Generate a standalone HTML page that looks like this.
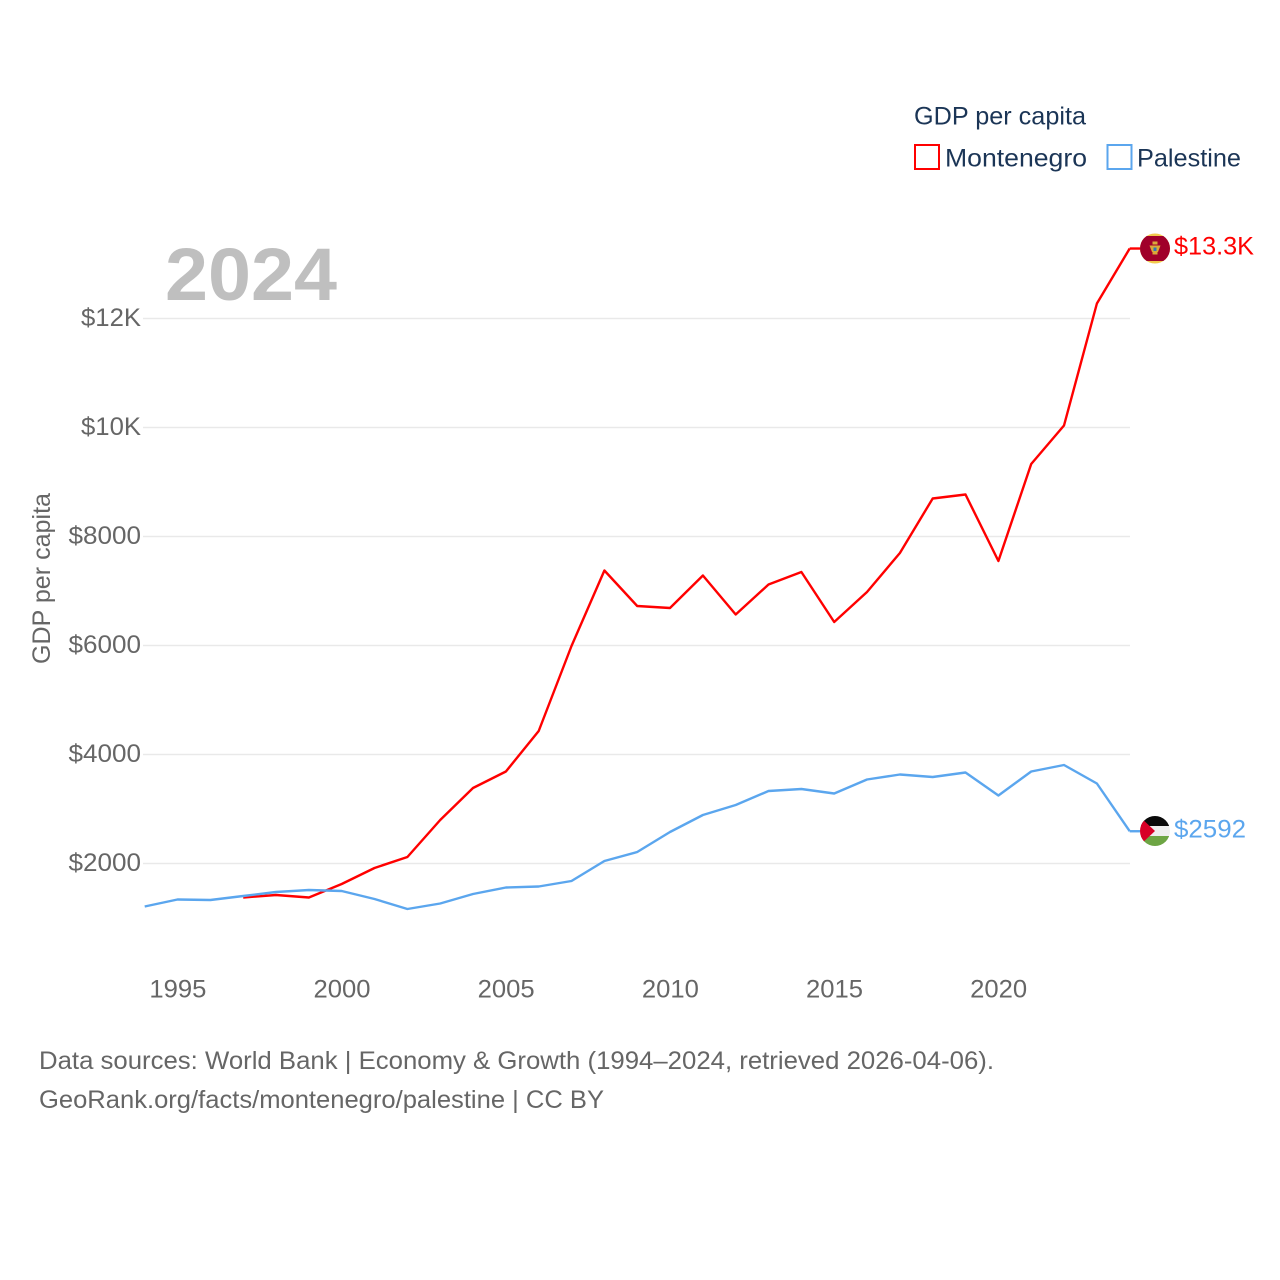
<!DOCTYPE html>
<html lang="en">
<head>
<meta charset="utf-8">
<title>GDP per capita: Montenegro vs Palestine</title>
<style>
html,body{margin:0;padding:0;background:#fff;}
svg{display:block;font-family:"Liberation Sans",sans-serif;}
</style>
</head>
<body>
<svg id="chart" width="1280" height="1280" viewBox="0 0 1280 1280" xmlns="http://www.w3.org/2000/svg">
  <defs>
    <clipPath id="flag-me"><circle cx="1155" cy="248.5" r="15"></circle></clipPath>
    <clipPath id="flag-ps"><circle cx="1155" cy="831" r="15"></circle></clipPath>
  </defs>
  <rect x="0" y="0" width="1280" height="1280" fill="#ffffff"></rect>
  <g id="grid"></g>
  <g id="yticks"></g>
  <g id="xticks"></g>
  <text x="165" y="300" font-size="74" font-weight="700" fill="#bfbfbf" textLength="172" lengthAdjust="spacingAndGlyphs">2024</text>
  <text transform="translate(50,664) rotate(-90)" font-size="25" fill="#666666" textLength="171" lengthAdjust="spacingAndGlyphs">GDP per capita</text>
  <g id="series"></g>

  <g clip-path="url(#flag-me)">
    <rect x="1140" y="233" width="30" height="31" fill="#f2c94c"></rect>
    <rect x="1140" y="236" width="30" height="25" fill="#a0002a"></rect>
    <rect x="1152.5" y="241.5" width="5" height="3" fill="#d9a93a"></rect>
    <polygon points="1149.5,245.5 1160.5,245.5 1158,252 1152,252" fill="#d9a93a"></polygon>
    <rect x="1153.5" y="247.5" width="3" height="3.5" fill="#2f78b7"></rect>
    <rect x="1152.5" y="252" width="5" height="2.5" fill="#d9a93a"></rect>
  </g>
  <g clip-path="url(#flag-ps)">
    <rect x="1140" y="816" width="30" height="10" fill="#0a0a0a"></rect>
    <rect x="1140" y="826" width="30" height="10" fill="#eeeeee"></rect>
    <rect x="1140" y="836" width="30" height="10" fill="#6da544"></rect>
    <polygon points="1139,816 1155,831 1139,846" fill="#d80027"></polygon>
  </g>
  <text x="1174" y="254.5" font-size="25" fill="#ff0000" textLength="80" lengthAdjust="spacingAndGlyphs">$13.3K</text>
  <text x="1174" y="837.5" font-size="25" fill="#5ba6ee" textLength="72" lengthAdjust="spacingAndGlyphs">$2592</text>

  <g>
    <text x="914" y="124.5" font-size="25" fill="#1b3556" textLength="172" lengthAdjust="spacingAndGlyphs">GDP per capita</text>
    <rect x="915" y="145" width="24" height="24" fill="#ffffff" stroke="#ff0000" stroke-width="2"></rect>
    <text x="945" y="166.5" font-size="25" fill="#1b3556" textLength="142" lengthAdjust="spacingAndGlyphs">Montenegro</text>
    <rect x="1107.5" y="145" width="24" height="24" fill="#ffffff" stroke="#5ba6ee" stroke-width="2"></rect>
    <text x="1137" y="166.5" font-size="25" fill="#1b3556" textLength="104" lengthAdjust="spacingAndGlyphs">Palestine</text>
  </g>

  <text x="39" y="1069" font-size="25" fill="#666666" textLength="955" lengthAdjust="spacingAndGlyphs">Data sources: World Bank | Economy &amp; Growth (1994–2024, retrieved 2026-04-06).</text>
  <text x="39" y="1108" font-size="25" fill="#666666" textLength="565" lengthAdjust="spacingAndGlyphs">GeoRank.org/facts/montenegro/palestine | CC BY</text>

  <script>
    const years = [1994,1995,1996,1997,1998,1999,2000,2001,2002,2003,2004,2005,2006,2007,2008,2009,2010,2011,2012,2013,2014,2015,2016,2017,2018,2019,2020,2021,2022,2023,2024];
    const montenegroValues = [null,null,null,1376,1422,1376,1624,1917,2119,2798,3385,3688,4431,5991,7376,6725,6688,7284,6569,7119,7349,6431,6982,7697,8697,8771,7550,9330,10037,12275,13284];
    const palestineValues = [1211,1339,1330,1404,1477,1514,1495,1349,1165,1266,1440,1560,1578,1679,2046,2211,2578,2890,3073,3330,3367,3284,3541,3633,3587,3670,3248,3688,3807,3468,2592];
    const yTickValues = [2000,4000,6000,8000,10000,12000];
    const yTickLabels = ["$2000","$4000","$6000","$8000","$10K","$12K"];
    const xTickValues = [1995,2000,2005,2010,2015,2020];

    const NS = 'http://www.w3.org/2000/svg';
    function xScale(year) { return 144.7 + (year - 1994) * (985 / 30); }
    function yScale(value) { return 972.5 - value * 0.0545; }
    function make(tag, parent, attrs) {
      const el = document.createElementNS(NS, tag);
      for (const key in attrs) el.setAttribute(key, attrs[key]);
      parent.appendChild(el);
      return el;
    }

    const grid = document.getElementById('grid');
    const yticks = document.getElementById('yticks');
    yTickValues.forEach(function (value, i) {
      const line = make('line', grid, {x1: 143, x2: 1130, y1: yScale(value), y2: yScale(value), stroke: '#e9e9e9', 'stroke-width': 1.5});
      
      
      const label = make('text', yticks, {x: 141, y: yScale(value) + 7.5, 'font-size': 25, fill: '#666666', 'text-anchor': 'end', textLength: yTickLabels[i].length === 5 ? 72.5 : 60, lengthAdjust: 'spacingAndGlyphs'});
      
      
      label.textContent = yTickLabels[i];
    });

    const xticks = document.getElementById('xticks');
    xTickValues.forEach(function (year) {
      const label = make('text', xticks, {x: xScale(year) + 0.3, y: 997.5, 'font-size': 25, fill: '#666666', 'text-anchor': 'middle', textLength: 57, lengthAdjust: 'spacingAndGlyphs'});
      
      
      label.textContent = year;
    });

    function drawSeries(values, color, name) {
      const pts = [];
      values.forEach(function (value, i) {
        if (value !== null) pts.push(xScale(years[i]).toFixed(1) + ',' + yScale(value).toFixed(1));
      });
      const line = make('polyline', document.getElementById('series'), {points: pts.join(' '), fill: 'none', stroke: color, 'stroke-width': 2.4, 'stroke-linejoin': 'round'});
      
      
      const last = values[values.length - 1];
      const connector = make('line', document.getElementById('series'), {x1: xScale(years[years.length - 1]), x2: 1142, y1: yScale(last), y2: yScale(last), stroke: color, 'stroke-width': 2.4});
      
      
    }
    drawSeries(montenegroValues, '#ff0000', 'line-montenegro');
    drawSeries(palestineValues, '#5ba6ee', 'line-palestine');
  </script>
</svg>
</body>
</html>
